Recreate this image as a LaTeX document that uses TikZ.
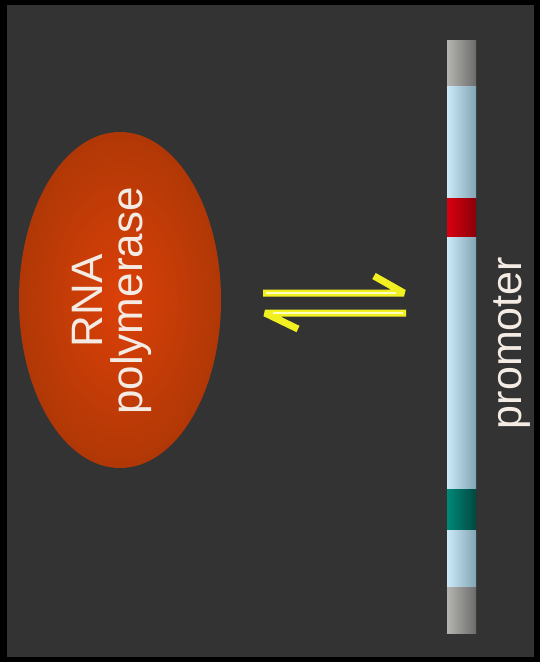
\documentclass[tikz,border=0pt]{standalone}
\usepackage{fontspec}
\setmainfont{Liberation Sans}
\usetikzlibrary{shapes.geometric}
\definecolor{bg}{HTML}{333333}
\definecolor{polin}{HTML}{DC4008}
\definecolor{polout}{HTML}{B03806}
\definecolor{txt}{HTML}{F4ECE4}
\definecolor{yel}{HTML}{F2F020}
\definecolor{yelc}{HTML}{FFFFC0}
\definecolor{gryL}{HTML}{B4B4B0}
\definecolor{gryR}{HTML}{6C6C6C}
\definecolor{bluL}{HTML}{CCEAF8}
\definecolor{bluR}{HTML}{82A4B4}
\definecolor{redL}{HTML}{D80010}
\definecolor{redR}{HTML}{8A0008}
\definecolor{tealL}{HTML}{008878}
\definecolor{tealR}{HTML}{004840}
\tikzset{
  harpoon/.style={draw=yel, line width=7pt, line join=bevel},
  harpooncore/.style={draw=yelc, line width=2.5pt},
  lbl/.style={text=txt, rotate=90, inner sep=0pt, align=center}
}
\begin{document}
\begin{tikzpicture}[x=1pt,y=-1pt]
\fill[black] (0,0) rectangle (540,662);
\fill[bg] (7,5) rectangle (534,657);
\useasboundingbox (0,0) rectangle (540,662);
% RNA polymerase
\node[ellipse, minimum width=202pt, minimum height=336pt, inner sep=0pt,
      shading=radial, inner color=polin, outer color=polout] (pol) at (120,300) {};
\node[lbl, font=\fontsize{44}{40}\selectfont] (poltext) at (112,301) {RNA\\polymerase};
% equilibrium arrows
\coordinate (a1) at (263,293);
\coordinate (a2) at (404,293);
\coordinate (a3) at (374,276);
\coordinate (b1) at (406,313);
\coordinate (b2) at (265,313);
\coordinate (b3) at (298,329);
\draw[harpoon] (a1) -- (a2) -- (a3);
\draw[harpoon] (b1) -- (b2) -- (b3);
\draw[harpooncore] (266,293) -- (396,293);
\draw[harpooncore] (273,313) -- (403,313);
% DNA bar
\shade[left color=gryL, right color=gryR] (447,40) rectangle (476,86);
\shade[left color=bluL, right color=bluR] (447,86) rectangle (476,198);
\shade[left color=redL, right color=redR] (447,198) rectangle (476,237);
\shade[left color=bluL, right color=bluR] (447,237) rectangle (476,489);
\shade[left color=tealL, right color=tealR] (447,489) rectangle (476,530);
\shade[left color=bluL, right color=bluR] (447,530) rectangle (476,587);
\shade[left color=gryL, right color=gryR] (447,587) rectangle (476,633);
\node[lbl, font=\fontsize{43}{40}\selectfont] (prom) at (512,343) {promoter};
\end{tikzpicture}
\end{document}
